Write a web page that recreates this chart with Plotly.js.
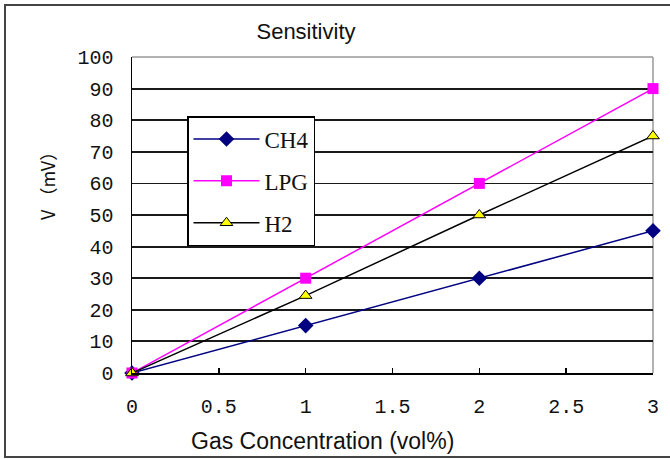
<!DOCTYPE html>
<html>
<head>
<meta charset="utf-8">
<script src="https://cdn.plot.ly/plotly-3.0.1.min.js"></script>
<style>html,body{margin:0;padding:0;background:#fff;}#chart{width:670px;height:459px;}</style>
</head>
<body>
<div id="chart"></div>
<script>
const concentration = [0, 1, 2, 3];
const ch4 = [0, 15, 30, 45];
const lpg = [0, 30, 60, 90];
const h2 = [0, 24.5, 50, 75];
const xTickVals = [0, 0.5, 1, 1.5, 2, 2.5, 3];
const xTickText = ['0', '0.5', '1', '1.5', '2', '2.5', '3'];
const yTickVals = [0, 10, 20, 30, 40, 50, 60, 70, 80, 90, 100];
const yTickText = ['0', '10', '20', '30', '40', '50', '60', '70', '80', '90', '100'];

const traces = [
  {x: concentration, y: ch4, name: 'CH4', legendgroup: 'a', mode: 'lines+markers', cliponaxis: false,
   line: {color: '#000080', width: 1.5}, marker: {symbol: 'diamond', size: 12, color: '#000080'}},
  {x: concentration, y: lpg, name: 'LPG', legendgroup: 'b', mode: 'lines+markers', cliponaxis: false,
   line: {color: '#ff00ff', width: 1.5}, marker: {symbol: 'square', size: 11, color: '#ff00ff'}},
  {x: concentration, y: h2, name: 'H2', legendgroup: 'c', mode: 'lines+markers', cliponaxis: false,
   line: {color: '#000000', width: 1.5}, marker: {symbol: 'triangle-up', size: 11, color: '#ffff00', line: {color: '#000000', width: 1}}}
];

const L = 132, R = 653, T = 57, B = 373, W = 670, H = 459;
const px = v => (v - L) / (R - L);
const py = v => (B - v) / (B - T);

const layout = {
  width: W, height: H,
  margin: {l: L, r: W - R, t: T, b: H - B, pad: 0},
  paper_bgcolor: '#ffffff', plot_bgcolor: '#ffffff',
  showlegend: true,
  title: {text: 'Sensitivity', font: {family: 'Liberation Sans, Arial, sans-serif', size: 22, color: '#111'},
          xref: 'container', yref: 'container', x: 306 / W, y: 1 - 31 / H, xanchor: 'center', yanchor: 'middle'},
  xaxis: {range: [0, 3], tickvals: xTickVals, ticktext: xTickText, showgrid: false, zeroline: false,
          showline: true, linecolor: '#000', linewidth: 1.5, ticks: 'inside', ticklen: 5, tickcolor: '#000', tickwidth: 1.5,
          ticklabelstandoff: 14,
          tickfont: {family: 'Liberation Mono, DejaVu Sans Mono, monospace', size: 20, color: '#111'}, fixedrange: true},
  yaxis: {range: [0, 100], tickvals: yTickVals, ticktext: yTickText, showgrid: true, gridcolor: '#1a1a1a', gridwidth: 1.8,
          zeroline: false, showline: true, linecolor: '#000', linewidth: 1.5, ticks: '',
          ticklabelstandoff: 13,
          tickfont: {family: 'Liberation Mono, DejaVu Sans Mono, monospace', size: 20, color: '#111'}, fixedrange: true},
  legend: {x: px(187), y: py(116), xanchor: 'left', yanchor: 'top', bgcolor: '#ffffff', bordercolor: '#000', borderwidth: 1.5,
           font: {family: 'Liberation Serif, Times New Roman, serif', size: 23, color: '#111'},
           itemwidth: 66, tracegroupgap: 9, traceorder: 'grouped'},
  annotations: [
    {text: 'Gas Concentration (vol%)', xref: 'paper', yref: 'paper', x: px(322), y: py(441), xanchor: 'center', yanchor: 'middle',
     showarrow: false, font: {family: 'Liberation Sans, Arial, sans-serif', size: 23, color: '#111'}},
    {text: 'V （mV）', xref: 'paper', yref: 'paper', x: px(47), y: py(182), xanchor: 'center', yanchor: 'middle', textangle: -90,
     showarrow: false, font: {family: 'Noto Sans CJK SC, sans-serif', size: 18, color: '#111'}}
  ],
  shapes: [
    {type: 'line', xref: 'paper', yref: 'paper', x0: 0, x1: 1, y0: 1, y1: 1, line: {color: '#999', width: 1.5}, layer: 'above'},
    {type: 'line', xref: 'paper', yref: 'paper', x0: 1, x1: 1, y0: 0, y1: 1, line: {color: '#999', width: 1.5}, layer: 'below'},
    {type: 'rect', xref: 'paper', yref: 'paper', x0: px(5), x1: px(680), y0: py(457), y1: py(5), line: {color: '#444', width: 2}, layer: 'above'}
  ]
};

Plotly.newPlot('chart', traces, layout, {staticPlot: true, displayModeBar: false});
</script>
</body>
</html>
